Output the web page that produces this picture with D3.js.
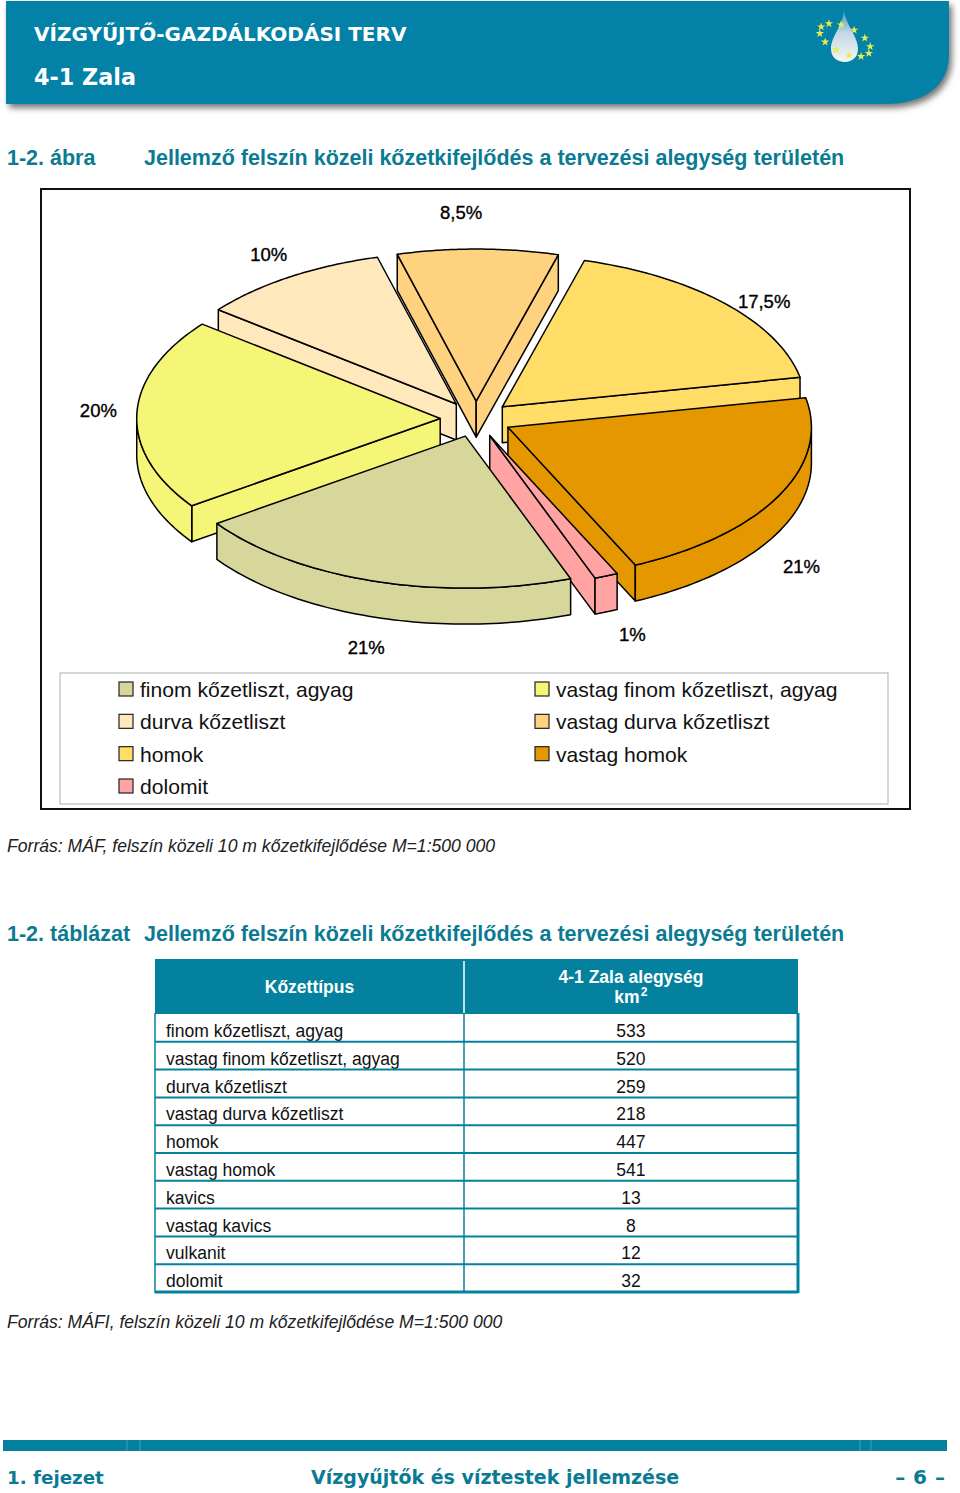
<!DOCTYPE html>
<html><head><meta charset="utf-8">
<script src="https://cdn.jsdelivr.net/npm/d3@7"></script>
<style>html,body{margin:0;padding:0;background:#fff}svg{display:block}</style>
</head><body><svg id="c" width="960" height="1493"></svg>
<script>
// ---- data ----
const pieCategories = ["finom kőzetliszt, agyag","vastag finom kőzetliszt, agyag","durva kőzetliszt","vastag durva kőzetliszt","homok","vastag homok","dolomit"];
const pieValues = [533,520,259,218,447,541,32];
const pieLabels = ["21%","20%","10%","8,5%","17,5%","21%","1%"];
const pieColors = ["#D7D79B","#F5F577","#FFE9BC","#FFD27F","#FFDD66","#E59700","#FFA3A3"];
const legendLeft = ["finom kőzetliszt, agyag","durva kőzetliszt","homok","dolomit"];
const legendRight = ["vastag finom kőzetliszt, agyag","vastag durva kőzetliszt","vastag homok"];
const tableTypes = ["finom kőzetliszt, agyag","vastag finom kőzetliszt, agyag","durva kőzetliszt","vastag durva kőzetliszt","homok","vastag homok","kavics","vastag kavics","vulkanit","dolomit"];
const tableAreas = [533,520,259,218,447,541,13,8,12,32];

const TEAL="#0481A7", TEAL2="#04819E", TITLE="#0A7B93", ARIAL="'Liberation Sans',Arial,sans-serif", DV="'DejaVu Sans',sans-serif";
const svg=d3.select("#c");
const defs=svg.append("defs");
defs.append("filter").attr("id","blur").attr("x","-5%").attr("y","-20%").attr("width","110%").attr("height","140%")
  .append("feGaussianBlur").attr("stdDeviation",3);
const lg=defs.append("linearGradient").attr("id","drop").attr("x1",0).attr("y1",0).attr("x2",0).attr("y2",1);
lg.append("stop").attr("offset",0).attr("stop-color","#3f97b8");
lg.append("stop").attr("offset",.45).attr("stop-color","#c3d9e6");
lg.append("stop").attr("offset",1).attr("stop-color","#f4f6f4");

function txt(x,y,s,o={}){return svg.append("text").attr("x",x).attr("y",y).text(s)
  .attr("font-family",o.f||ARIAL).attr("font-size",o.s||18).attr("font-weight",o.w||"normal")
  .attr("font-style",o.i||"normal").attr("fill",o.c||"#000").attr("text-anchor",o.a||"start");}

// ---- header ----
const hdr="M6,1H949V55C949,85 925,104 885,104H6Z";
svg.append("path").attr("d",hdr).attr("fill","#777").attr("transform","translate(3,4)").attr("filter","url(#blur)");
svg.append("path").attr("d",hdr).attr("fill",TEAL);
txt(34,41,"VÍZGYŰJTŐ-GAZDÁLKODÁSI TERV",{f:DV,w:"bold",s:20,c:"#fff"});
txt(34,85,"4-1 Zala",{f:DV,w:"bold",s:22.3,c:"#fff"});
// logo
svg.append("path").attr("d","M844,10C846,26 858,36 858,49C858,57 852,62 845,62C837,62 831,57 831,49C831,36 843,26 844,10Z").attr("fill","url(#drop)");
const star=d3.symbol().type(d3.symbolStar).size(22)();
const tilt=25*Math.PI/180;
d3.range(12).forEach(i=>{const t=i/12*2*Math.PI+.15;
  const ex=27.5*Math.cos(t),ey=13*Math.sin(t);
  svg.append("path").attr("d",star).attr("fill","#E9EE50")
   .attr("transform",`translate(${845+ex*Math.cos(tilt)-ey*Math.sin(tilt)},${40+ex*Math.sin(tilt)+ey*Math.cos(tilt)})`);});

// ---- figure title ----
const T={f:ARIAL,w:"bold",s:21.5,c:TITLE};
txt(7,165,"1-2. ábra",T);
txt(144,165,"Jellemző felszín közeli kőzetkifejlődés a tervezési alegység területén",T);

// ---- frame & legend ----
svg.append("rect").attr("x",41).attr("y",189).attr("width",869).attr("height",620).attr("fill","#fff").attr("stroke","#111").attr("stroke-width",2);
svg.append("rect").attr("x",60).attr("y",673).attr("width",828).attr("height",131).attr("fill","#fff").attr("stroke","#bbb").attr("stroke-width",1.2);

// ---- pie ----
const DEG=Math.PI/180;
const startAngle=159.7*DEG;
const pieGen=d3.pie().sort(null).value(d=>d).startAngle(startAngle).endAngle(startAngle+2*Math.PI);
const arcs=pieGen(pieValues);
const CX=476,CY=419,RX=303.5,RY=152,EXPL=0.118,H=36;
function proj(theta,r,mid,drop){
  const ux=r*Math.sin(theta)+EXPL*Math.sin(mid);
  const uy=-(r*Math.cos(theta)+EXPL*Math.cos(mid));
  return [CX+RX*ux, CY+RY*uy+(drop?H:0)];
}
const line=d3.line();
const pieG=svg.append("g").attr("stroke","#000").attr("stroke-width",1.5).attr("stroke-linejoin","round");
const order=[2,3,4,1,5,6,0];
order.forEach(i=>{
  const a=arcs[i],mid=(a.startAngle+a.endAngle)/2,col=pieColors[i];
  const steps=d3.range(0,1.0001,1/60).map(t=>a.startAngle+t*(a.endAngle-a.startAngle));
  const g=pieG.append("g");
  const wall=(th)=>{g.append("path").attr("fill",col).attr("d",line([proj(th,0,mid),proj(th,1,mid),proj(th,1,mid,1),proj(th,0,mid,1)])+"Z");};
  if(Math.sin(a.startAngle)<0) wall(a.startAngle);
  if(Math.sin(a.endAngle)>0) wall(a.endAngle);
  const vis=steps.filter(t=>Math.cos(t)<0);
  if(vis.length>1){
    const top=vis.map(t=>proj(t,1,mid)),bot=vis.map(t=>proj(t,1,mid,1)).reverse();
    g.append("path").attr("fill",col).attr("d",line(top.concat(bot))+"Z");
  }
  g.append("path").attr("fill",col).attr("d",line([proj(0,0,mid)].concat(steps.map(t=>proj(t,1,mid))))+"Z");
});
// labels: rim point pushed outward, with a small hand nudge per label
const labelNudge=[[3,12],[1,-3],[1,-6],[-17,-16],[10,12],[-12,26],[11,5]];
arcs.forEach((a,i)=>{
  const mid=(a.startAngle+a.endAngle)/2,p=proj(mid,1.13,mid,Math.cos(mid)<0);
  txt(p[0]+labelNudge[i][0],p[1]+labelNudge[i][1]+6,pieLabels[i],{s:18.5,a:"middle"}).attr("stroke","#000").attr("stroke-width",.35);
});

// ---- legend ----
const legY=d3.scalePoint().domain(d3.range(4)).range([689,786]);
function legend(items,x){items.forEach((n,i)=>{
  const col=pieColors[pieCategories.indexOf(n)],y=legY(i);
  svg.append("rect").attr("x",x).attr("y",y-7).attr("width",14).attr("height",14).attr("fill",col).attr("stroke","#222").attr("stroke-width",1.2);
  txt(x+21,y+8,n,{s:21.1,c:"#111"});
});}
legend(legendLeft,119);legend(legendRight,535);

txt(7,852,"Forrás: MÁF, felszín közeli 10 m kőzetkifejlődése M=1:500 000",{i:"italic",s:17.6,c:"#222"});

// ---- table ----
txt(7,941,"1-2. táblázat",T);
txt(144,941,"Jellemző felszín közeli kőzetkifejlődés a tervezési alegység területén",T);
const TX0=155,TX1=798,TXM=464;
svg.append("rect").attr("x",TX0).attr("y",959).attr("width",TX1-TX0).attr("height",55).attr("fill",TEAL2);
svg.append("line").attr("x1",TXM).attr("x2",TXM).attr("y1",961).attr("y2",1013).attr("stroke","#fff").attr("stroke-width",1.5);
const H2={w:"bold",s:17.5,c:"#fff",a:"middle"};
txt((TX0+TXM)/2,993,"Kőzettípus",H2);
txt(631,983,"4-1 Zala alegység",H2);
txt(627,1003,"km",H2);
txt(644,996,"2",{w:"bold",s:12,c:"#fff",a:"middle"});
const rowY=d3.scaleBand().domain(d3.range(tableTypes.length)).range([1014,1292]);
tableTypes.forEach((n,i)=>{
  const y=rowY(i),b=rowY.bandwidth();
  txt(166,y+23,n,{s:17.55,c:"#111"});
  txt(631,y+23,tableAreas[i],{s:17.55,c:"#111",a:"middle"});
  svg.append("line").attr("x1",TX0).attr("x2",TX1).attr("y1",y+b).attr("y2",y+b).attr("stroke",TEAL2).attr("stroke-width",i==9?3:2);
});
[[TX0,1.5],[TXM,1.5],[TX1,3]].forEach(([x,w])=>svg.append("line").attr("x1",x).attr("x2",x).attr("y1",1013).attr("y2",1293).attr("stroke",TEAL2).attr("stroke-width",w));
txt(7,1328,"Forrás: MÁFI, felszín közeli 10 m kőzetkifejlődése M=1:500 000",{i:"italic",s:17.6,c:"#222"});

// ---- footer ----
svg.append("rect").attr("x",3).attr("y",1440).attr("width",944).attr("height",11).attr("fill",TEAL2);
[127,140,860,871].forEach(x=>svg.append("line").attr("x1",x).attr("x2",x).attr("y1",1440).attr("y2",1451).attr("stroke","#fff").attr("stroke-opacity",.25));
const F={f:DV,w:"bold",s:19,c:TITLE};
txt(7,1484,"1. fejezet",{...F,s:18.3});
txt(311,1484,"Vízgyűjtők és víztestek jellemzése",F);
txt(945,1484,"– 6 –",{...F,s:20,a:"end"}).attr("word-spacing",1);
</script></body></html>
